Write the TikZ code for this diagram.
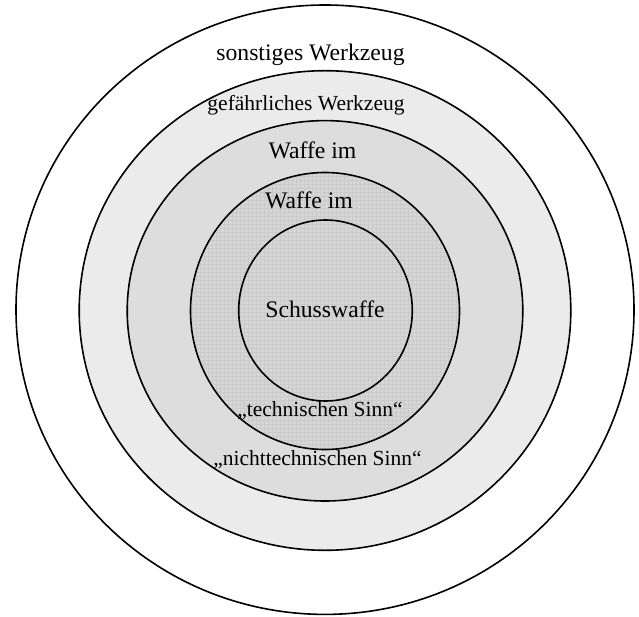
\documentclass[tikz,border=0pt]{standalone}
\usepackage{fontspec}
\setmainfont{Liberation Serif}
\definecolor{ringA}{RGB}{235,235,235}
\definecolor{ringB}{RGB}{221,221,221}
\definecolor{ringC}{RGB}{214,214,214}
\definecolor{gridC}{RGB}{203,203,203}
\begin{document}
\begin{tikzpicture}[x=1pt,y=-1pt,
  ring/.style={line width=1.6pt, draw=black},
  bigtxt/.style={font=\fontsize{23.7}{28}\selectfont, inner sep=0pt, anchor=base},
  smalltxt/.style={font=\fontsize{21.5}{26}\selectfont, inner sep=0pt, anchor=base}]
\useasboundingbox (0,0) rectangle (639,617);
\fill[white] (0,0) rectangle (639,617);
\draw[ring, fill=white] (325,309.7) ellipse [x radius=309pt, y radius=304.7pt];
\draw[ring, fill=ringA] (325,310.5) ellipse [x radius=245.8pt, y radius=239.8pt];
\draw[ring, fill=ringB] (325,310.8) ellipse [x radius=197.8pt, y radius=190.2pt];
\fill[ringC] (325,311) ellipse [x radius=134.5pt, y radius=138.5pt];
\begin{scope}
  \clip (325,311) ellipse [x radius=134.5pt, y radius=138.5pt];
  \draw[gridC, line width=0.5pt, step=4pt] (188,170) grid (462,452);
\end{scope}
\draw[ring] (325,311) ellipse [x radius=134.5pt, y radius=138.5pt];
\draw[ring] (325.5,310.5) ellipse [x radius=86.8pt, y radius=90.5pt];
\node[bigtxt] (sonst) at (310.5,60.5) {sonstiges Werkzeug};
\node[smalltxt] (gef) at (306,111) {gefährliches Werkzeug};
\node[bigtxt] (waffeA) at (312.5,158.3) {Waffe im};
\node[bigtxt] (waffeB) at (309,208.3) {Waffe im};
\node[bigtxt] (schuss) at (325,317.7) {Schusswaffe};
\node[smalltxt] (tech) at (320,416) {„technischen Sinn“};
\node[smalltxt] (ntech) at (317.5,465) {„nichttechnischen Sinn“};
\end{tikzpicture}
\end{document}
